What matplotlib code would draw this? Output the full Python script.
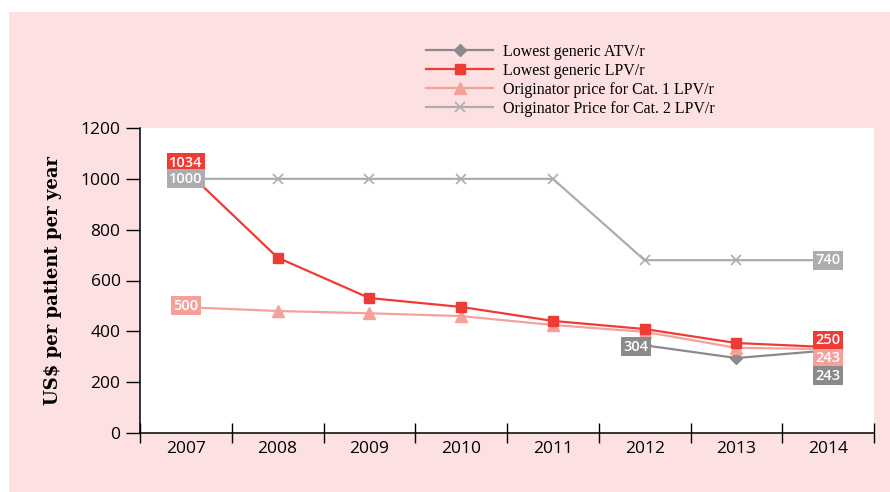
import matplotlib
matplotlib.use("Agg")
import matplotlib.pyplot as plt
from matplotlib.patches import Rectangle

years = ["2007", "2008", "2009", "2010", "2011", "2012", "2013", "2014"]
atv_generic = [None, None, None, None, None, 345, 295, 325]
lpv_generic = [1034, 690, 531, 496, 441, 409, 354, 338]
cat1_orig = [495, 480, 471, 460, 425, 398, 335, 330]
cat2_orig = [1000, 1000, 1000, 1000, 1000, 680, 680, 680]

series_names = ["Lowest generic ATV/r", "Lowest generic LPV/r",
                "Originator price for Cat. 1 LPV/r", "Originator Price for Cat. 2 LPV/r"]
yticks = [0, 200, 400, 600, 800, 1000, 1200]

c_atv = "#8a8a8c"
c_lpv = "#ee3b33"
c_cat1 = "#f6a09b"
c_cat2 = "#adadb0"
bg = "#fde0e1"

W, H = 890, 492
fig = plt.figure(figsize=(W / 100, H / 100), dpi=100)
fig.patch.set_facecolor("white")
fig.patches.append(Rectangle((9 / W, 0), 1 - 9 / W, 1 - 12 / H, transform=fig.transFigure,
                             facecolor=bg, edgecolor="none", zorder=-10))

ax = fig.add_axes([140 / W, 1 - 433 / H, (874 - 140) / W, (433 - 128) / H])
ax.set_zorder(1)
ax.set_facecolor("white")
x = list(range(len(years)))

xa = [i for i, v in zip(x, atv_generic) if v is not None]
ya = [v for v in atv_generic if v is not None]
l1, = ax.plot(xa, ya, color=c_atv, lw=1.6, marker="D", ms=6, zorder=3)
l2, = ax.plot(x, lpv_generic, color=c_lpv, lw=1.6, marker="s", ms=7, zorder=5)
l3, = ax.plot(x, cat1_orig, color=c_cat1, lw=1.6, marker="^", ms=8, zorder=4)
l4, = ax.plot(x, cat2_orig, color=c_cat2, lw=1.6, marker="x", ms=7, mew=1.2, zorder=2)
ax.set_xlim(-0.5, 7.5)
ax.set_ylim(0, 1200)
ax.set_yticks(yticks)
ax.set_xticks(x)
ax.set_xticklabels(years)
ax.set_xticks([i - 0.5 for i in range(len(years) + 1)], minor=True)
ax.tick_params(axis="x", which="major", length=0, pad=6, labelsize=12.5)
ax.tick_params(axis="x", which="minor", direction="inout", length=14, width=1, color="black")
ax.tick_params(axis="y", direction="out", length=10, width=1, pad=4, labelsize=12.5)
for lab in ax.get_xticklabels() + ax.get_yticklabels():
    lab.set_family("Open Sans")
for s in ["top", "right"]:
    ax.spines[s].set_visible(False)
ax.spines["left"].set_linewidth(1.1)
ax.spines["bottom"].set_linewidth(1.1)
ax.spines["left"].set_clip_on(False)

ax.set_ylabel("US$ per patient per year", family="DejaVu Serif", fontweight="bold",
              fontsize=13, labelpad=13)


def box(xp, yp, txt, col, dx=0):
    ax.annotate(txt, (xp, yp), xytext=(dx, 0), textcoords="offset points",
                ha="center", va="center", color="white", fontsize=10.5, fontweight="semibold",
                family="Open Sans", zorder=10,
                bbox=dict(boxstyle="square,pad=0.17", facecolor=col, edgecolor="none"))


box(0, 1064, str(lpv_generic[0]), c_lpv)
box(0, cat2_orig[0], str(cat2_orig[0]), c_cat2)
box(0, 500, "500", c_cat1)
box(5, atv_generic[5] - 5, "304", c_atv, dx=-6)
box(7, cat2_orig[7], "740", c_cat2)
box(7, 364, "250", c_lpv)
box(7, 295, "243", c_cat1)
box(7, 226, "243", c_atv)

leg = fig.legend([l1, l2, l3, l4], series_names, loc="upper left",
                 bbox_to_anchor=(418 / W, 1 - 36 / H), frameon=False,
                 handlelength=4.2, handletextpad=0.6, labelspacing=0.18,
                 borderpad=0, prop={"family": "Liberation Serif", "size": 11.5})

fig.savefig("out.png", dpi=100, facecolor=fig.get_facecolor())
